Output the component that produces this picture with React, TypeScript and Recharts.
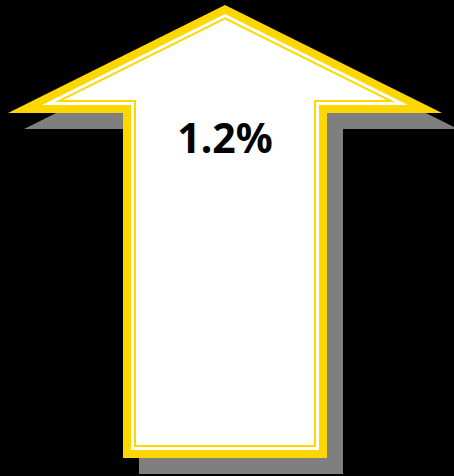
import { Bar, ComposedChart, LabelList, XAxis, YAxis } from 'recharts'

const categories = ['Change']
const changeValues = [1.2]
const valueSuffix = '%'

const chartData = categories.map((name, i) => ({ name, value: changeValues[i] }))

type Pt = [number, number]

// move every edge of the polygon inward by d and intersect neighbours
function insetPolygon(points: Pt[], d: number): Pt[] {
  const n = points.length
  const lines = points.map((p, i) => {
    const q = points[(i + 1) % n]
    const dx = q[0] - p[0]
    const dy = q[1] - p[1]
    const len = Math.hypot(dx, dy)
    const nx = -dy / len
    const ny = dx / len
    return { p: [p[0] + nx * d, p[1] + ny * d] as Pt, dir: [dx, dy] as Pt }
  })
  return points.map((_, j) => {
    const a = lines[(j - 1 + n) % n]
    const b = lines[j]
    const cross = a.dir[0] * b.dir[1] - a.dir[1] * b.dir[0]
    const wx = b.p[0] - a.p[0]
    const wy = b.p[1] - a.p[1]
    const t = (wx * b.dir[1] - wy * b.dir[0]) / cross
    return [a.p[0] + t * a.dir[0], a.p[1] + t * a.dir[1]] as Pt
  })
}

const toPath = (pts: Pt[]) => pts.map((p) => `${p[0]},${p[1]}`).join(' ')

function ArrowShape(props: any) {
  const { x, y, width, height } = props
  const cx = x + width / 2
  const wingY = y + height * (108 / 453)
  const shaftHalf = width / 2 - 115
  const bottom = y + height
  const outline: Pt[] = [
    [cx, y],
    [x + width, wingY],
    [cx + shaftHalf, wingY],
    [cx + shaftHalf, bottom],
    [cx - shaftHalf, bottom],
    [cx - shaftHalf, wingY],
    [x, wingY],
  ]
  const shadow = outline.map((p) => [p[0] + 16, p[1] + 16] as Pt)
  return (
    <g>
      <polygon points={toPath(shadow)} fill="#7f7f7f" />
      <polygon points={toPath(outline)} fill="#ffd700" />
      <polygon points={toPath(insetPolygon(outline, 8))} fill="#ffffff" />
      <polygon points={toPath(insetPolygon(outline, 11))} fill="#ffd700" />
      <polygon points={toPath(insetPolygon(outline, 13))} fill="#ffffff" />
    </g>
  )
}

function ValueLabel(props: any) {
  const { x, y, width, value } = props
  return (
    <text
      x={x + width / 2}
      y={y + 148}
      textAnchor="middle"
      fontFamily="'Noto Sans', sans-serif"
      fontWeight={700}
      fontSize={41}
      fill="#000000"
    >
      {`${value}${valueSuffix}`}
    </text>
  )
}

export default function App() {
  return (
    <div style={{ width: 454, height: 476, background: '#000000' }}>
      <style>{'body{margin:0}'}</style>
      <ComposedChart
        width={454}
        height={476}
        data={chartData}
        margin={{ top: 5, right: 12, left: 8, bottom: 18 }}
        barCategoryGap={0}
      >
        <XAxis dataKey="name" hide />
        <YAxis hide domain={[0, 'dataMax']} />
        <Bar dataKey="value" shape={<ArrowShape />} isAnimationActive={false}>
          <LabelList dataKey="value" content={<ValueLabel />} />
        </Bar>
      </ComposedChart>
    </div>
  )
}
